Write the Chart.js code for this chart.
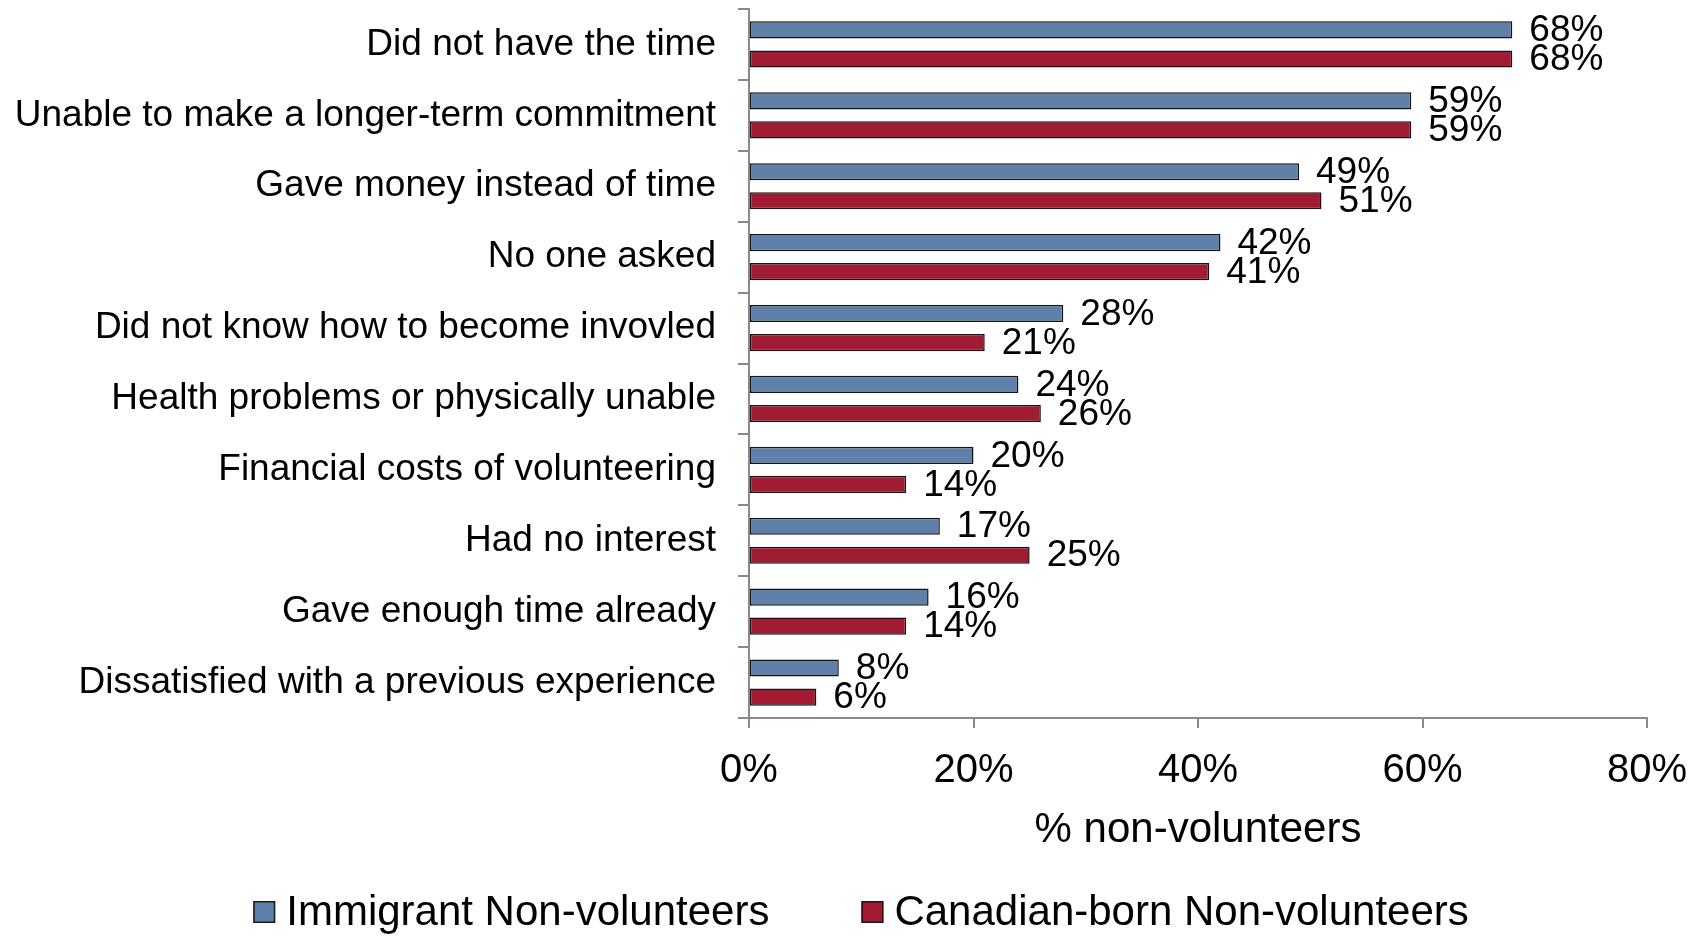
<!DOCTYPE html>
<html>
<head>
<meta charset="utf-8">
<title>Reasons for not volunteering</title>
<script src="https://cdn.jsdelivr.net/npm/chart.js@4.4.1/dist/chart.umd.min.js"></script>
<style>
  html, body { margin: 0; padding: 0; background: #fff; }
  canvas { display: block; }
</style>
</head>
<body>
<canvas id="chart" width="1706" height="936"></canvas>
<script>
const reasons = [
  'Did not have the time',
  'Unable to make a longer-term commitment',
  'Gave money instead of time',
  'No one asked',
  'Did not know how to become invovled',
  'Health problems or physically unable',
  'Financial costs of volunteering',
  'Had no interest',
  'Gave enough time already',
  'Dissatisfied with a previous experience'
];
const immigrant = [68, 59, 49, 42, 28, 24, 20, 17, 16, 8];
const canadianBorn = [68, 59, 51, 41, 21, 26, 14, 25, 14, 6];
const seriesNames = ['Immigrant Non-volunteers', 'Canadian-born Non-volunteers'];
const xTicks = [0, 20, 40, 60, 80];

const FONT = '"Liberation Sans", Arial, sans-serif';
const AXIS_GREY = '#898989';

// percentage printed just past the end of every bar
const barValueLabels = {
  id: 'barValueLabels',
  afterDatasetsDraw(chart) {
    const { ctx } = chart;
    ctx.save();
    ctx.font = '37px ' + FONT;
    ctx.fillStyle = '#000';
    ctx.textAlign = 'left';
    ctx.textBaseline = 'middle';
    chart.data.datasets.forEach((ds, i) => {
      chart.getDatasetMeta(i).data.forEach((bar, j) => {
        ctx.fillText(ds.data[j] + '%', bar.x + 17, bar.y + 1);
      });
    });
    ctx.restore();
  }
};

// simple centred legend under the axis title
const bottomLegend = {
  id: 'bottomLegend',
  afterDraw(chart) {
    const { ctx } = chart;
    const box = 22, gapBox = 11, gapItem = 92, cy = 912;
    ctx.save();
    ctx.font = '42px ' + FONT;
    const items = chart.data.datasets.map(ds => ({
      text: ds.label, fill: ds.backgroundColor, w: ctx.measureText(ds.label).width
    }));
    let total = items.reduce((s, it) => s + box + gapBox + it.w, 0) + gapItem * (items.length - 1);
    let x = (chart.width - total) / 2 + 8;
    items.forEach(it => {
      ctx.fillStyle = it.fill;
      ctx.fillRect(x, cy - box / 2, box, box);
      ctx.strokeStyle = '#1a1a1a';
      ctx.lineWidth = 1.5;
      ctx.strokeRect(x + 0.75, cy - box / 2 + 0.75, box - 1.5, box - 1.5);
      ctx.fillStyle = '#000';
      ctx.textAlign = 'left';
      ctx.textBaseline = 'middle';
      ctx.fillText(it.text, x + box + gapBox, cy + 1);
      x += box + gapBox + it.w + gapItem;
    });
    ctx.restore();
  }
};

new Chart(document.getElementById('chart'), {
  type: 'bar',
  data: {
    labels: reasons,
    datasets: [
      {
        label: seriesNames[0],
        data: immigrant,
        backgroundColor: '#5E80A9',
        borderColor: '#141414',
        borderWidth: 1.5,
        borderSkipped: false,
        categoryPercentage: 0.82,
        barPercentage: 0.59
      },
      {
        label: seriesNames[1],
        data: canadianBorn,
        backgroundColor: '#A11B33',
        borderColor: '#141414',
        borderWidth: 1.5,
        borderSkipped: false,
        categoryPercentage: 0.82,
        barPercentage: 0.59
      }
    ]
  },
  options: {
    indexAxis: 'y',
    responsive: false,
    animation: false,
    layout: { padding: { top: 9, right: 59, left: 10, bottom: 80 } },
    plugins: {
      legend: { display: false },
      tooltip: { enabled: false }
    },
    scales: {
      x: {
        min: 0,
        max: 80,
        afterBuildTicks(scale) {
          scale.ticks = xTicks.map(v => ({ value: v }));
        },
        afterFit(scale) {
          scale.height = 138;
          scale.paddingLeft = 0;
          scale.paddingRight = 0;
        },
        ticks: {
          color: '#000',
          font: { family: FONT, size: 40 },
          padding: 19,
          callback: v => v + '%'
        },
        grid: {
          drawOnChartArea: false,
          color: AXIS_GREY,
          lineWidth: 2,
          tickLength: 10
        },
        border: { color: AXIS_GREY, width: 2 },
        title: {
          display: true,
          text: '% non-volunteers',
          color: '#000',
          font: { family: FONT, size: 42 },
          padding: { top: 0, bottom: 0 }
        }
      },
      y: {
        afterFit(scale) {
          scale.width = 739;
          scale.paddingTop = 0;
          scale.paddingBottom = 0;
        },
        ticks: {
          color: '#000',
          font: { family: FONT, size: 37 },
          padding: 22
        },
        grid: {
          offset: true,
          drawOnChartArea: false,
          color: AXIS_GREY,
          lineWidth: 2,
          tickLength: 11
        },
        border: { color: AXIS_GREY, width: 2 }
      }
    }
  },
  plugins: [barValueLabels, bottomLegend]
});
</script>
</body>
</html>
